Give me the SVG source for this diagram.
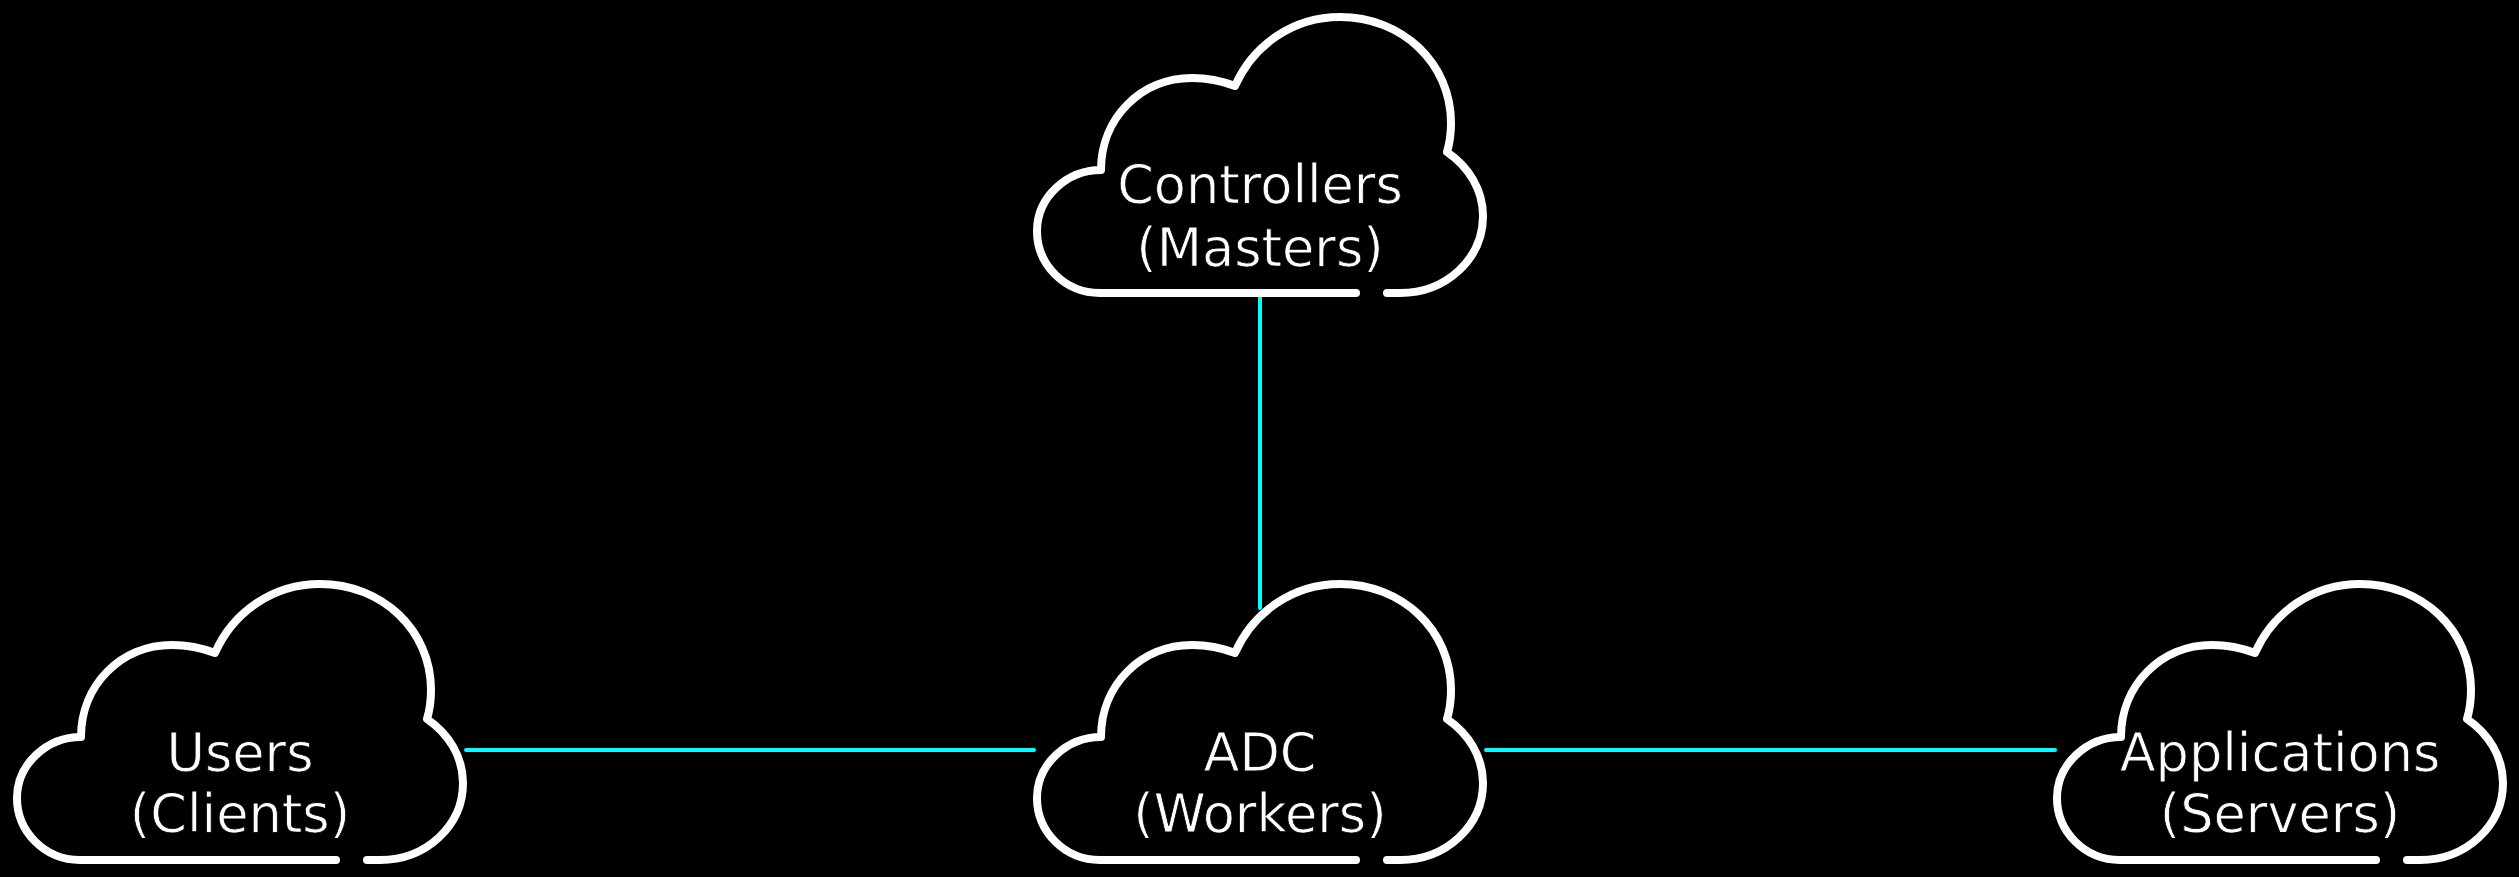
<svg xmlns="http://www.w3.org/2000/svg" width="2519" height="877" viewBox="0 0 2519 877">
<style>
.cloud{fill:none;stroke:#fff;stroke-width:8;stroke-linecap:round;stroke-linejoin:round}
.link{stroke:#00ffff;stroke-width:4;stroke-linecap:round;fill:none}
text{font-family:"DejaVu Sans","Liberation Sans",sans-serif;font-size:52.5px;fill:#fff;stroke:#000;stroke-width:.8px;text-anchor:middle}
</style>
<defs>
<path id="cloud" class="cloud" d="M377 290H390C436 290 473 256 473 213C473 187 459 164 437 149C440 139 441 130 441 120C441 60 392 14 330 14C283 14 243 42 225 83C212 78 197 75 182 75C131 75 91 115 91 167C57 167 27 194 27 228C27 262 55 290 90 290H346"/>
<clipPath id="clipLow"><rect x="0" y="570" width="2519" height="273"/></clipPath>
<clipPath id="clipTop"><rect x="0" y="0" width="2519" height="275"/></clipPath>
</defs>
<rect width="2519" height="877" fill="#000"/>
<g id="connectors">
<path class="link" d="M1260 296V608"/>
<path class="link" d="M466 750H1034"/>
<path class="link" d="M1486 750H2055"/>
</g>
<g id="controllers"><use href="#cloud" transform="translate(1010 3)"/><text x="1260" y="203">Controllers</text><text x="1260" y="266" clip-path="url(#clipTop)">(Masters)</text></g>
<g id="users"><use href="#cloud" transform="translate(-10 570)"/><text x="240" y="771">Users</text><text x="240" y="832" clip-path="url(#clipLow)">(Clients)</text></g>
<g id="adc"><use href="#cloud" transform="translate(1010 570)"/><text x="1260" y="771">ADC</text><text x="1260" y="832" clip-path="url(#clipLow)">(Workers)</text></g>
<g id="applications"><use href="#cloud" transform="translate(2030 570)"/><text x="2280" y="771">Applications</text><text x="2280" y="832" clip-path="url(#clipLow)">(Servers)</text></g>
</svg>
